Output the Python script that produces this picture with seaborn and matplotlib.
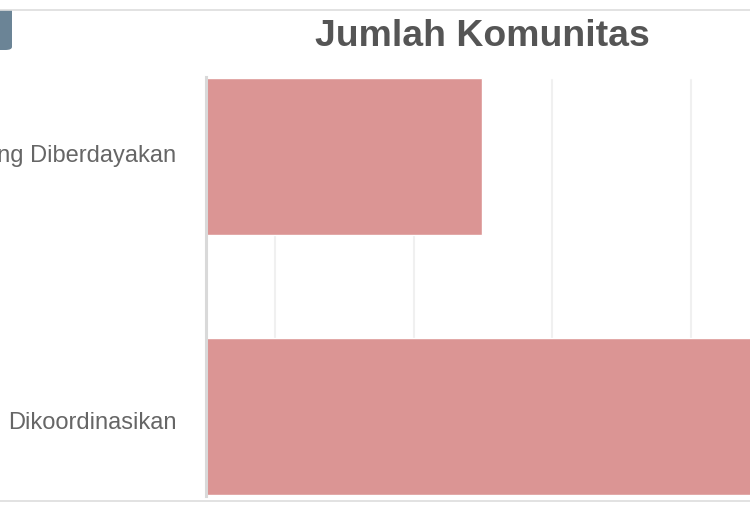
import matplotlib
matplotlib.use('Agg')
import matplotlib.pyplot as plt
from matplotlib.lines import Line2D
from matplotlib.patches import FancyBboxPatch
from matplotlib.transforms import Bbox
import pandas as pd
import seaborn as sns

kategori = ['Yang Diberdayakan', 'Dikoordinasikan']
jumlah = [1.99, 4]
grid_ticks = [0.5, 1.5, 2.5, 3.5]
judul = 'Jumlah Komunitas'

W, H = 750, 509

sns.set_theme(style='white')
plt.rcParams['font.family'] = ['Liberation Sans', 'DejaVu Sans']

df = pd.DataFrame({'kategori': kategori, 'jumlah': jumlah})

fig = plt.figure(figsize=(W / 100, H / 100), dpi=100, facecolor='white')
ax = fig.add_axes([206 / W, 1 - 496 / H, (W - 206) / W, (496 - 77) / H])

# Bar horizontal
sns.barplot(data=df, y='kategori', x='jumlah', color='#DB9594', saturation=1,
            width=0.606, ax=ax, zorder=3)

ax.set_xlim(0, 3.928)
ax.set_ylim(1.3058, -0.3058)
ax.set_xlabel('')
ax.set_ylabel('')

# Grid dan sumbu
ax.set_xticks(grid_ticks)
ax.set_xticklabels([])
ax.tick_params(axis='x', length=0)
# label sedikit digeser dari tengah bar, seperti aslinya
ax.set_yticks([-0.0115, 1.015], kategori)
ax.tick_params(axis='y', length=0, pad=21.5, labelsize=17.0, labelcolor='#666666')
ax.grid(True, axis='x', color='#F0F0F0', linewidth=1.5, zorder=0)
ax.set_axisbelow(True)
for l in ax.get_xgridlines():
    l.set_ydata([0, 0.993])
for s in ['top', 'right', 'bottom']:
    ax.spines[s].set_visible(False)
ax.spines['left'].set_color('#D9D9D9')
ax.spines['left'].set_linewidth(2.2)
ax.spines['left'].set_zorder(4)

# Judul
fig.text(482.5 / W, 1 - 36.5 / H, judul, ha='center', va='center', fontsize=26.9,
         fontweight='bold', color='#555555')

# Garis atas dan bawah halaman
for y in [10, 501]:
    fig.add_artist(Line2D([0, 1], [1 - y / H, 1 - y / H], color='#DDDDDD', linewidth=1.2))

# Potongan logo di kiri atas
logo = FancyBboxPatch((-20 / W, 1 - 50 / H), 32 / W, 60 / H,
                      boxstyle='round,pad=0,rounding_size=0.009',
                      transform=fig.transFigure, facecolor='#6B8496',
                      edgecolor='none', mutation_aspect=H / W)
fig.add_artist(logo)
logo.set_clip_box(Bbox([[0, H - 50], [W, H - 10]]))

fig.savefig('out.png', dpi=100)
